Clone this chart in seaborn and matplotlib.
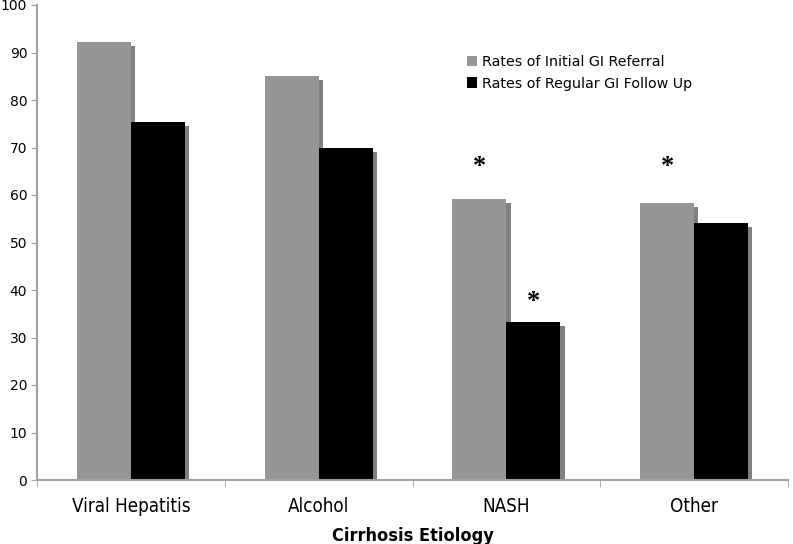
import pandas as pd
import numpy as np
import seaborn as sns
import matplotlib.pyplot as plt
import matplotlib.patheffects as pe

etiologias = ['Viral Hepatitis', 'Alcohol', 'NASH', 'Other']
referral = [92.3, 85.0, 59.2, 58.4]
follow_up = [75.3, 70.0, 33.3, 54.2]
series = ['Rates of Initial GI Referral', 'Rates of Regular GI Follow Up']

dados = pd.DataFrame({
    'etiologia': etiologias * 2,
    'taxa': referral + follow_up,
    'serie': [series[0]] * 4 + [series[1]] * 4,
})

sns.set_style('white')
plt.rcParams['font.family'] = ['DejaVu Sans']
plt.rcParams['text.color'] = 'black'
plt.rcParams['axes.labelcolor'] = 'black'

fig = plt.figure(figsize=(7.93, 5.44), dpi=100)
ax = fig.add_axes([37 / 793, 1 - 480 / 544, 751 / 793, 475 / 544])

sns.barplot(data=dados, x='etiologia', y='taxa', hue='serie',
            palette=['#969696', '#000000'], width=0.575, gap=0,
            saturation=1, ax=ax, errorbar=None)

for p in ax.patches:
    p.set_linewidth(0)
    p.set_path_effects([pe.SimplePatchShadow(offset=(3, -3), shadow_rgbFace='#808080', alpha=1),
                        pe.Normal()])

ax.set_ylim(0, 100)
ax.set_xlim(-0.5, 3.5)
ax.set_yticks(range(0, 101, 10))
ax.tick_params(axis='y', labelsize=10, colors='#a0a0a0', labelcolor='black', length=4,
               direction='out', left=True, pad=3)
ax.set_xticks(range(4))
ax.set_xticklabels(etiologias, fontsize=13.5, fontstretch='condensed', color='black')
ax.tick_params(axis='x', length=0, pad=12)
ax.set_xticks(np.arange(-0.5, 4, 1), minor=True)
ax.tick_params(axis='x', which='minor', length=5, colors='#a0a0a0', bottom=True)

for s in ['top', 'right']:
    ax.spines[s].set_visible(False)
for s in ['left', 'bottom']:
    ax.spines[s].set_color('#a0a0a0')
    ax.spines[s].set_linewidth(1.5)

ax.set_ylabel('')
ax.set_xlabel('Cirrhosis Etiology', fontsize=13, fontweight='bold', fontstretch='condensed',
              labelpad=8, color='black')

# asteriscos de significancia
ast = dict(ha='center', va='center', fontsize=19, fontweight='bold', fontfamily='Liberation Serif')
ax.text(2 - 0.1437, 65.9, '*', **ast)
ax.text(3 - 0.1437, 65.9, '*', **ast)
ax.text(2 + 0.1437, 37.5, '*', **ast)

leg = ax.legend(loc='upper left', bbox_to_anchor=(0.572, 0.894), frameon=False, fontsize=10.3,
                handlelength=0.7, handleheight=0.7, handletextpad=0.4, labelspacing=0.5,
                borderaxespad=0, borderpad=0)
for h in leg.legend_handles:
    h.set_path_effects([])

fig.savefig('out.png', dpi=100)
